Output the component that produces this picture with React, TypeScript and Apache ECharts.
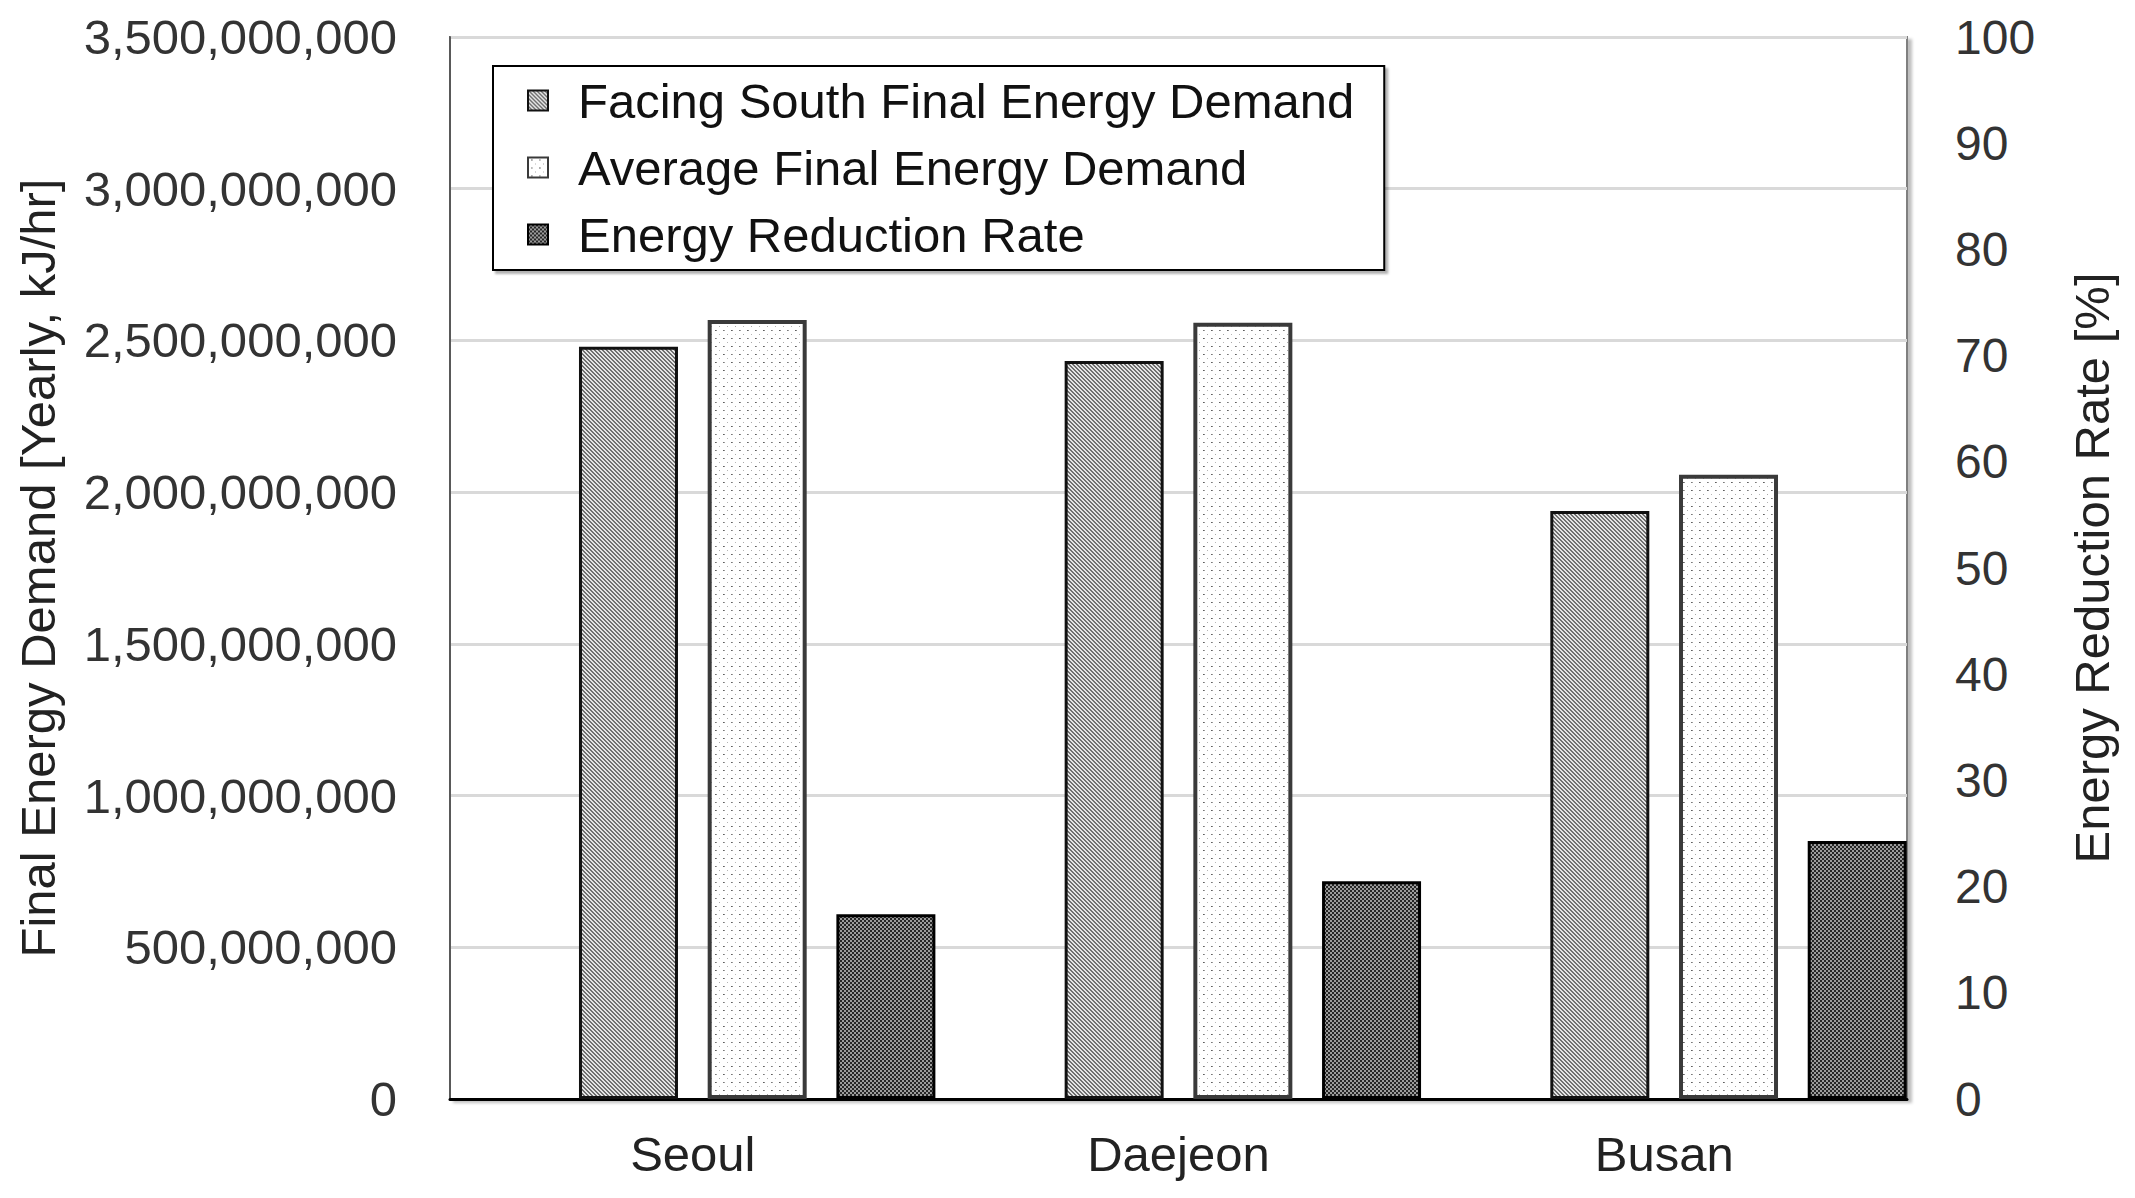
import React, { useEffect, useRef } from "react";
import * as echarts from "echarts";

const categories = ["Seoul", "Daejeon", "Busan"];
const facingSouth = [2.479e9, 2.432e9, 1.938e9];
const averageDemand = [2.567e9, 2.558e9, 2.057e9];
const reductionRate = [17.4, 20.5, 24.3];
const leftAxis = { min: 0, max: 3.5e9, interval: 5e8 };
const rightAxis = { min: 0, max: 100, interval: 10 };
const seriesNames = [
  "Facing South Final Energy Demand",
  "Average Final Energy Demand",
  "Energy Reduction Rate",
];

function makeTile(w: number, h: number, fn: (x: number, y: number) => string | null) {
  const c = document.createElement("canvas");
  c.width = w;
  c.height = h;
  const ctx = c.getContext("2d")!;
  for (let y = 0; y < h; y++) {
    for (let x = 0; x < w; x++) {
      const col = fn(x, y);
      if (col) {
        ctx.fillStyle = col;
        ctx.fillRect(x, y, 1, 1);
      }
    }
  }
  return { image: c.toDataURL(), repeat: "repeat", imageWidth: w, imageHeight: h } as any;
}

export default function App() {
  const ref = useRef<HTMLDivElement>(null);
  useEffect(() => {
    if (!ref.current) return;
    const chart = echarts.init(ref.current, undefined, { renderer: "svg" });
    const hatch = makeTile(4, 4, (x, y) => ((((x - y) % 4) + 4) % 4 < 2 ? "#707070" : "#e4e4e4"));
    const dotMap: Record<string, string> = {
      "3,2": "#5e5e5e",
      "4,2": "#8a8a8a",
      "11,2": "#7a7a7a",
      "12,2": "#a0a0a0",
      "7,6": "#b4b4b4",
      "15,6": "#a8a8a8",
      "3,10": "#7a7a7a",
      "4,10": "#a0a0a0",
      "11,10": "#5e5e5e",
      "12,10": "#8a8a8a",
      "7,14": "#a8a8a8",
      "15,14": "#b8b8b8",
    };
    const dots = makeTile(16, 16, (x, y) => dotMap[x + "," + y] || "#ffffff");
    const checker = makeTile(4, 4, (x, y) =>
      (Math.floor(x / 2) + Math.floor(y / 2)) % 2 === 0 ? "#262626" : "#9c9c9c"
    );
    const font = "'Liberation Sans', Arial, sans-serif";
    chart.setOption({
      animation: false,
      backgroundColor: "#ffffff",
      grid: {
        left: 450,
        right: 228,
        top: 37,
        bottom: 99,
        show: true,
        borderColor: "#7f7f7f",
        borderWidth: 2,
        backgroundColor: "#ffffff",
        shadowColor: "rgba(0,0,0,0.25)",
        shadowBlur: 3,
        shadowOffsetX: 4,
        shadowOffsetY: 3,
      },
      legend: {
        data: seriesNames,
        orient: "vertical",
        left: 493,
        top: 66,
        padding: [10, 30, 11, 34],
        itemGap: 18,
        itemWidth: 20,
        itemHeight: 20,
        icon: "rect",
        backgroundColor: "#ffffff",
        borderColor: "#000000",
        borderWidth: 2,
        shadowColor: "rgba(0,0,0,0.3)",
        shadowBlur: 2,
        shadowOffsetX: 3,
        shadowOffsetY: 3,
        textStyle: {
          fontSize: 49,
          lineHeight: 49,
          color: "#111111",
          fontFamily: font,
          padding: [0, 0, 0, 25],
        },
      },
      xAxis: {
        type: "category",
        data: categories,
        axisLine: { show: true, lineStyle: { color: "#000000", width: 3 } },
        axisTick: { show: false },
        axisLabel: { fontSize: 49, color: "#222222", fontFamily: font, margin: 30 },
      },
      yAxis: [
        {
          type: "value",
          min: leftAxis.min,
          max: leftAxis.max,
          interval: leftAxis.interval,
          name: "Final Energy Demand [Yearly, kJ/hr]",
          nameLocation: "middle",
          nameGap: 388,
          nameTextStyle: { fontSize: 49, color: "#222222", fontFamily: font },
          axisLine: { show: true, lineStyle: { color: "#595959", width: 2 } },
          axisTick: { show: false },
          axisLabel: {
            fontSize: 49,
            color: "#333333",
            fontFamily: font,
            margin: 53,
            formatter: (v: number) => v.toLocaleString("en-US"),
          },
          splitLine: { show: true, lineStyle: { color: "#d9d9d9", width: 3 } },
        },
        {
          type: "value",
          min: rightAxis.min,
          max: rightAxis.max,
          interval: rightAxis.interval,
          name: "Energy Reduction Rate [%]",
          nameLocation: "middle",
          nameGap: 160,
          nameTextStyle: { fontSize: 49, color: "#222222", fontFamily: font },
          axisLine: { show: false },
          axisTick: { show: false },
          axisLabel: { fontSize: 48, color: "#333333", fontFamily: font, margin: 48 },
          splitLine: { show: false },
        },
      ],
      series: [
        {
          name: "spacer",
          type: "bar",
          data: categories.map(() => "-"),
          barWidth: 99,
          barGap: "30%",
          yAxisIndex: 0,
        },
        {
          name: seriesNames[0],
          type: "bar",
          data: facingSouth,
          barWidth: 99,
          barGap: "30%",
          yAxisIndex: 0,
          itemStyle: { color: hatch, borderColor: "#111111", borderWidth: 3 },
        },
        {
          name: seriesNames[1],
          type: "bar",
          data: averageDemand,
          barWidth: 99,
          barGap: "30%",
          yAxisIndex: 0,
          itemStyle: { color: dots, borderColor: "#3a3a3a", borderWidth: 4 },
        },
        {
          name: seriesNames[2],
          type: "bar",
          data: reductionRate,
          barWidth: 99,
          barGap: "30%",
          yAxisIndex: 1,
          itemStyle: { color: checker, borderColor: "#000000", borderWidth: 3 },
        },
      ],
    });
    return () => chart.dispose();
  }, []);
  return (
    <div
      ref={ref}
      style={{ position: "fixed", left: 0, top: 0, width: 2135, height: 1198, background: "#fff" }}
    />
  );
}
